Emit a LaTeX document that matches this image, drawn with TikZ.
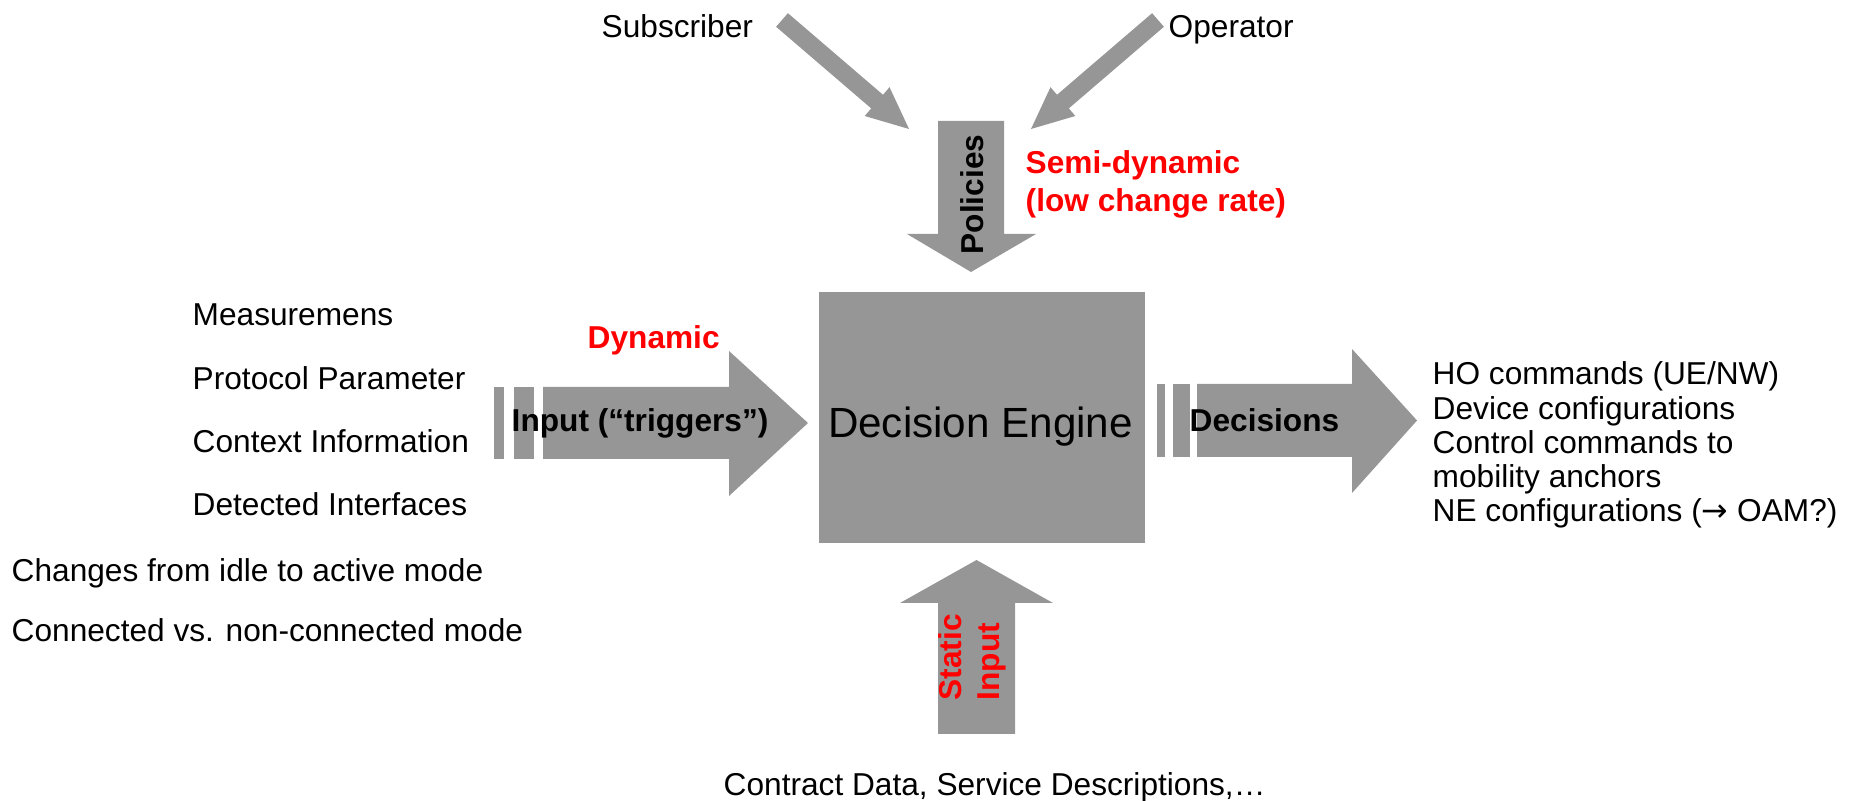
\documentclass[tikz,border=0pt]{standalone}
\usepackage{fontspec}
\setmainfont{Liberation Sans}
\newfontfamily\symfont{DejaVu Sans}
\definecolor{blockgrey}{RGB}{150,150,150}
\definecolor{hotred}{RGB}{255,0,0}

\begin{document}
\begin{tikzpicture}[x=0.01cm,y=-0.01cm,
    item/.style={anchor=base west,inner sep=0pt,font=\fontsize{9}{11}\selectfont},
    tag/.style={item,font=\fontsize{9}{11}\selectfont\bfseries},
    hot/.style={tag,text=hotred},
    blk/.style={fill=blockgrey,draw=none}]
    % Frame
    \useasboundingbox (0,0) rectangle (1849,801);

    % Engine
    \node [blk,minimum width=3.26cm,minimum height=2.51cm,inner sep=0pt] (engine) at (982,417.5) {};
    \node [anchor=base,inner sep=0pt,font=\fontsize{12}{14}\selectfont] (englbl) at (980.5,438) {Decision Engine};

    % Policies (top)
    \node [item] (sub) at (601,38) {Subscriber};
    \node [item] (op) at (1168,38) {Operator};
    \fill [blk] (776.1,26.8) -- (871.2,108.4) -- (864.7,116.0) -- (909,129) -- (889.5,87.2) -- (883.0,94.8) -- (787.9,13.2) -- cycle;
    \fill [blk] (1163.9,26.8) -- (1068.8,108.4) -- (1075.3,116.0) -- (1031,129) -- (1050.5,87.2) -- (1057.0,94.8) -- (1152.1,13.2) -- cycle;
    \fill [blk] (938,121) -- (1004,121) -- (1004,234) -- (1036,234) -- (971,272) -- (907,234) -- (938,234) -- cycle;
    \node [tag,anchor=base,rotate=90] (pol) at (983,194.5) {Policies};
    \node [hot] (semi1) at (1025,174) {Semi-dynamic};
    \node [hot] (semi2) at (1025,212) {(low change rate)};

    % Input (left)
    \foreach \t [count=\i] in {Measuremens, Protocol Parameter, Context Information, Detected Interfaces}
        \node [item] (meas\i) at (192,{326+63.3*(\i-1)}) {\t};
    \node [item] (mode1) at (11,582) {Changes from idle to active mode};
    \node [item] (mode2) at (11,642) {Connected vs. non-connected mode};
    \fill [blk] (494,387) rectangle (504,459);
    \fill [blk] (514,387) rectangle (534,459);
    \fill [blk] (543,387) -- (729,387) -- (729,351) -- (808,423) -- (729,496) -- (729,459) -- (543,459) -- cycle;
    \node [hot] (dyn) at (587,349) {Dynamic};
    \node [tag] (inlbl) at (511,432) {Input (“triggers”)};

    % Decisions (right)
    \fill [blk] (1157,384) rectangle (1165,457);
    \fill [blk] (1173,384) rectangle (1190,457);
    \fill [blk] (1197,384) -- (1352,384) -- (1352,349) -- (1417,420.5) -- (1352,493) -- (1352,457) -- (1197,457) -- cycle;
    \node [tag] (declbl) at (1189,432) {Decisions};
    \foreach \t [count=\i] in {HO commands (UE/NW), Device configurations, Control commands to, mobility anchors, NE configurations ({\symfont →} OAM?)}
        \node [item] (out\i) at (1432,{385+34.2*(\i-1)}) {\t};

    % Static input (bottom)
    \fill [blk] (938,734) -- (1015,734) -- (1015,603) -- (1053,603) -- (976.5,560) -- (900,603) -- (938,603) -- cycle;
    \node [hot,rotate=90] (stat1) at (961,701) {Static};
    \node [hot,rotate=90] (stat2) at (999,701) {Input};
    \node [item] (contract) at (723,795) {Contract Data, Service Descriptions,…};
\end{tikzpicture}
\end{document}
